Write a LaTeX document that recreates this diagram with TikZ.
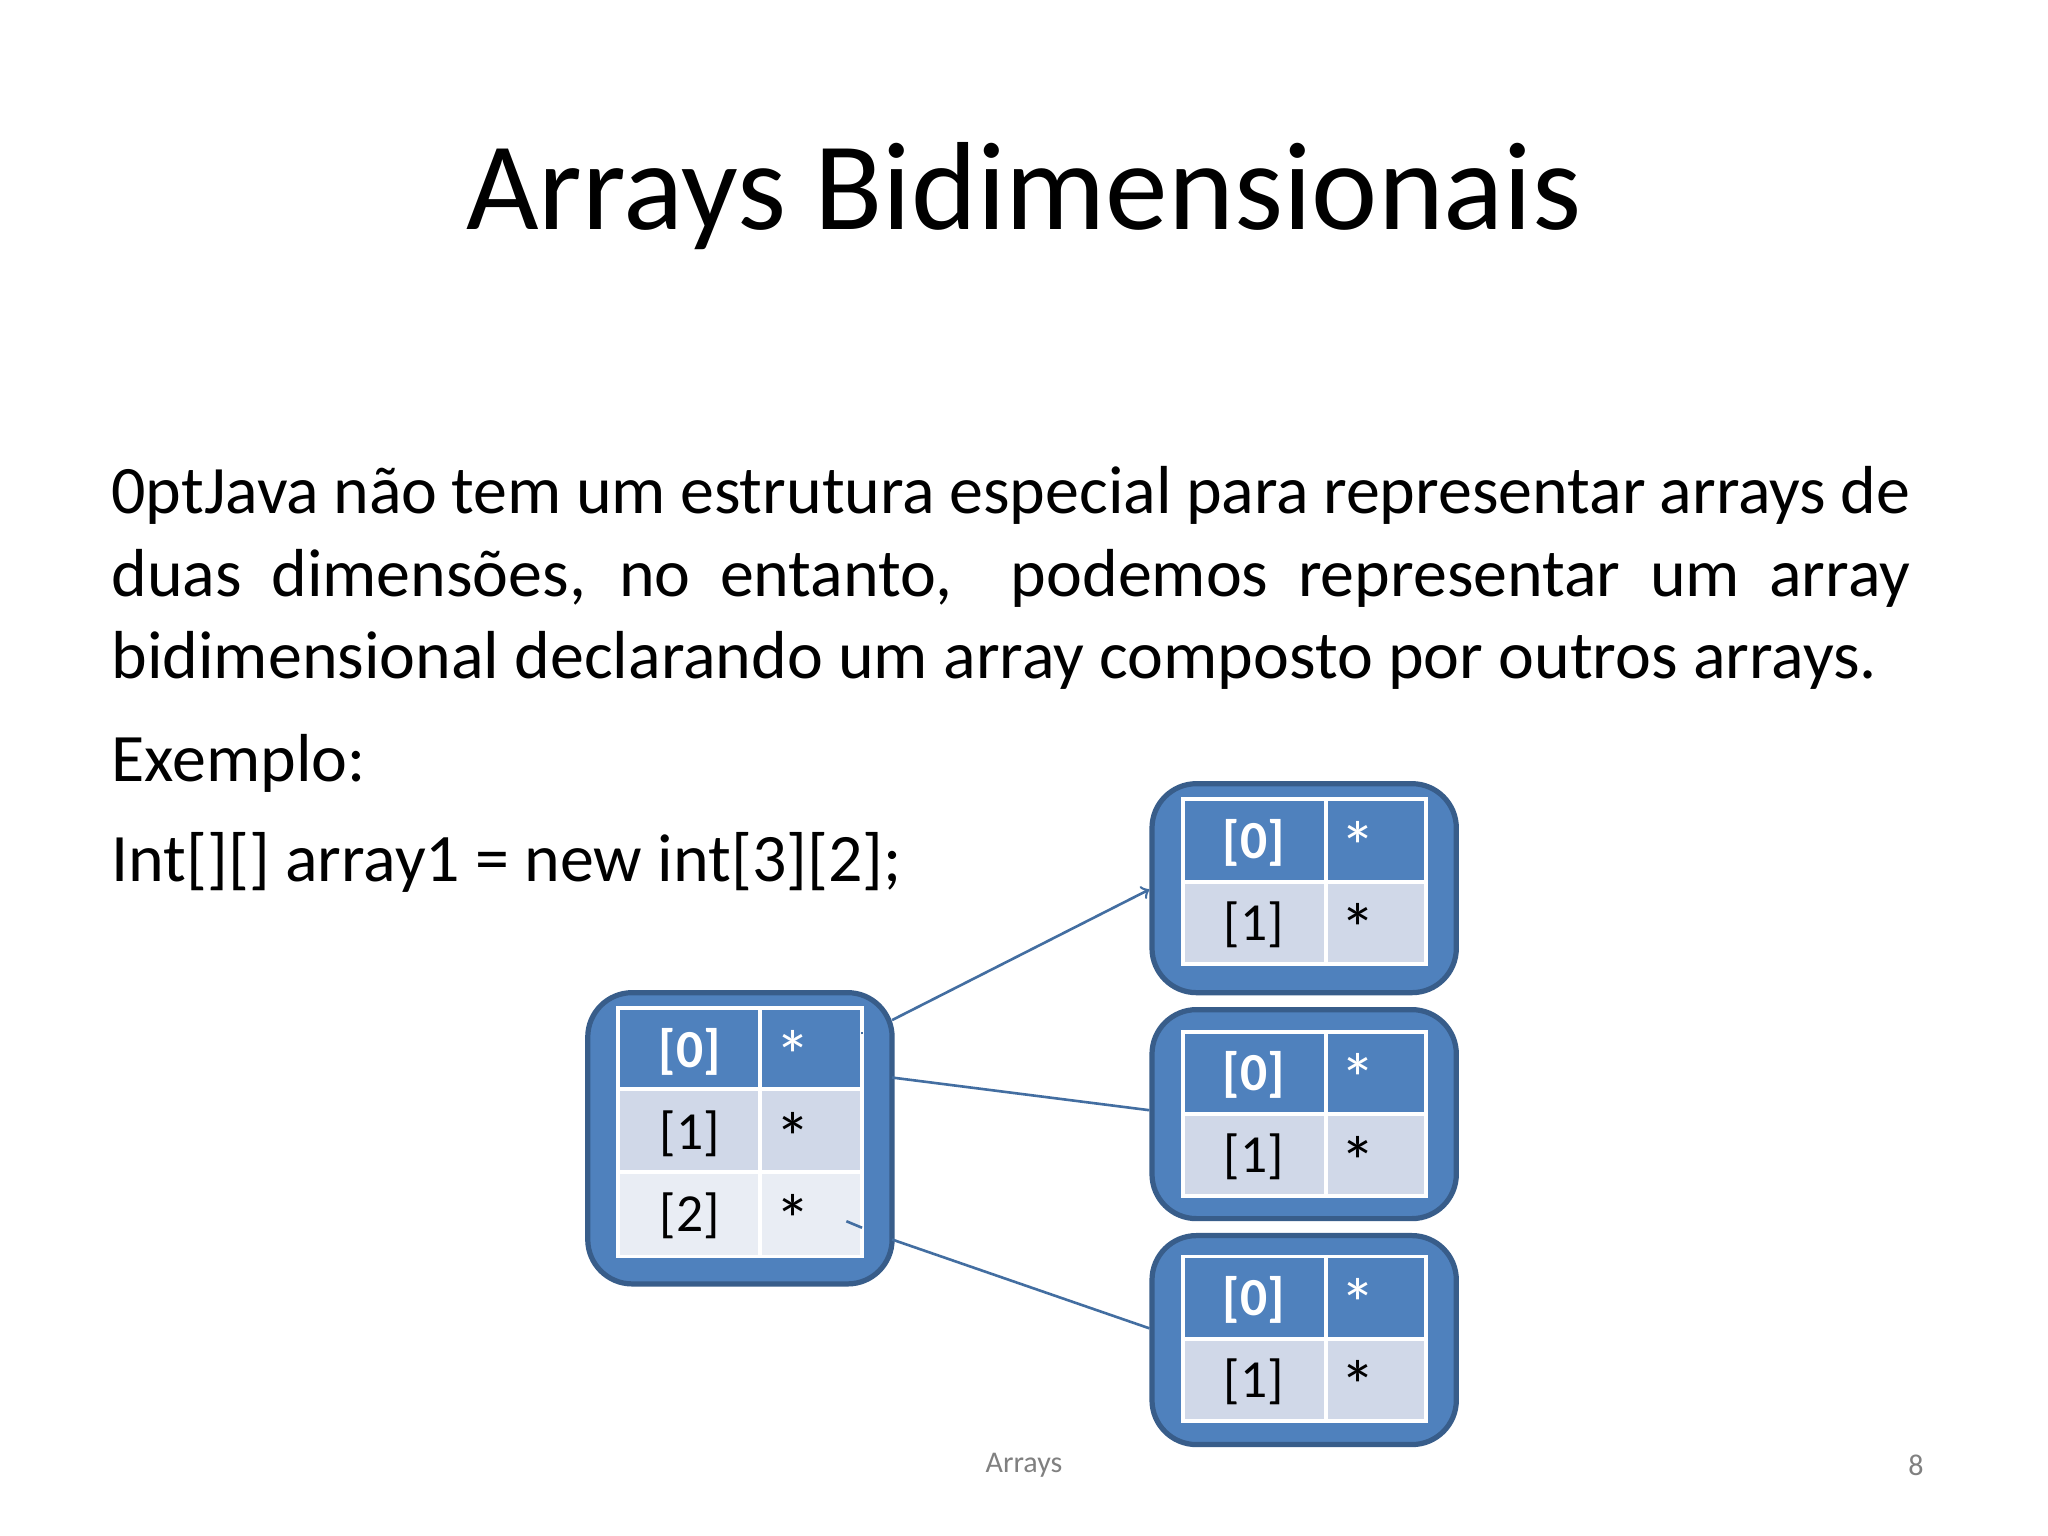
\documentclass[tikz,border=0pt]{standalone}
\usepackage{fontspec}
\setmainfont{Carlito}
\definecolor{hb}{HTML}{4F81BD}
\definecolor{bd}{HTML}{385D8A}
\definecolor{r1}{HTML}{D0D8E8}
\definecolor{r2}{HTML}{E9EDF4}
\tikzset{
 outerbox/.style={draw=bd,line width=2pt,fill=hb,rounded corners=17pt,minimum width=116.5pt},
 grid/.style={draw=white,line width=1.5pt},
 hd/.style={text=white,font=\fontsize{20.5}{22}\selectfont\bfseries},
 cl/.style={text=black,font=\fontsize{20.5}{22}\selectfont},
 st/.style={font=\fontsize{27}{28}\selectfont},
 link/.style={draw=hb!85!black,line width=1pt},
}
\begin{document}
\begin{tikzpicture}[x=0.5pt,y=-0.5pt]
\useasboundingbox[fill=white] (0,0) rectangle (1568,1176);
\node[font=\fontsize{48}{50}\selectfont] (title) at (784,150) {Arrays Bidimensionais};
\node[anchor=north west,inner sep=0,text width=688.5pt,align=justify,font=\fontsize{26}{31.5}\selectfont\hyphenpenalty=10000\relax] (para) at (85,357)
 {Java não tem um estrutura especial para representar arrays de\linebreak duas dimensões, no entanto,\ \ podemos representar um array\linebreak bidimensional declarando um array composto por outros arrays.};
\node[anchor=base west,inner sep=0,font=\fontsize{26}{28}\selectfont] (ex) at (85,598) {Exemplo:};
\node[anchor=base west,inner sep=0,font=\fontsize{26}{28}\selectfont] (code) at (85,675) {Int[][] array1 = new int[3][2];};
\node[text=gray,font=\fontsize{11.5}{13}\selectfont] (foot) at (784,1122) {Arrays};
\node[text=gray,font=\fontsize{11.5}{13}\selectfont] (pg) at (1467,1122) {8};
% left box
\node[outerbox,minimum height=111.5pt] (L) at (566.5,871.5) {};
\fill[hb] (473,772) rectangle (660,834);
\fill[r1] (473,834) rectangle (660,897);
\fill[r2] (473,897) rectangle (660,962);
\draw[grid] (473,772) rectangle (660,962) (582,772) -- (582,962) (473,834) -- (660,834) (473,897) -- (660,897);
\node[hd] (l0) at (528,805) {[0]}; \node[hd,st] (l0s) at (607,808) {*};
\node[cl] (l1) at (528,868) {[1]}; \node[cl,st] (l1s) at (607,871) {*};
\node[cl] (l2) at (528,931) {[2]}; \node[cl,st] (l2s) at (607,934) {*};
% right boxes
\foreach \n/\c/\t in {A/680/612,B/853/790,C/1026/962}{
 \node[outerbox,minimum height=80pt] (\n) at (998.5,\c) {};
 \pgfmathsetmacro{\m}{\t+63}\pgfmathsetmacro{\b}{\t+126}
 \fill[hb] (906,\t) rectangle (1092,\m);
 \fill[r1] (906,\m) rectangle (1092,\b);
 \draw[grid] (906,\t) rectangle (1092,\b) (1015,\t) -- (1015,\b) (906,\m) -- (1092,\m);
 \node[hd] (\n0) at (960,\t+33) {[0]}; \node[hd,st] (\n0s) at (1040,\t+36) {*};
 \node[cl] (\n1) at (960,\t+96) {[1]}; \node[cl,st] (\n1s) at (1040,\t+99) {*};
}
\coordinate (la) at (683,781);
\coordinate (lb) at (683,825);
\coordinate (lc) at (683,949);
\draw[link,->] (la) -- (A.west|-0,681);
\draw[link] (lb) -- (B.west|-0,850);
\draw[link] (lc) -- (C.west|-0,1017);
\draw[link] (648,935) -- (660,940);
\draw[link] (660,792) -- (660,790);
\end{tikzpicture}
\end{document}
